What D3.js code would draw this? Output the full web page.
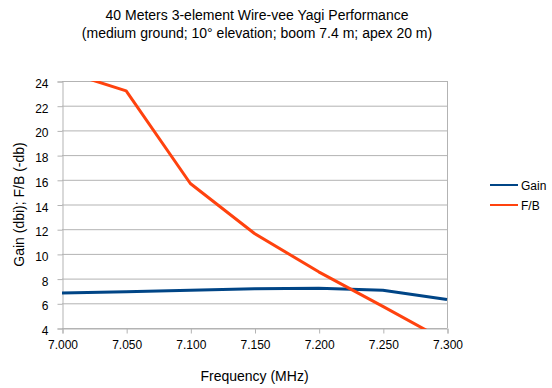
<!DOCTYPE html>
<html><head><meta charset="utf-8">
<script src="https://cdn.jsdelivr.net/npm/d3@7/dist/d3.min.js"></script>
<style>body{margin:0;background:#fff}svg{display:block;font-family:"Liberation Sans",Arial,sans-serif}</style>
</head><body>
<svg id="c" width="552" height="388"></svg>
<script>
const freqs = [7.000, 7.050, 7.100, 7.150, 7.200, 7.250, 7.300];
const gain = [6.83, 6.94, 7.05, 7.17, 7.22, 7.06, 6.30];
const fb = [24.85, 23.2, 15.7, 11.65, 8.55, 5.75, 2.9];
const xTicks = [7.000, 7.050, 7.100, 7.150, 7.200, 7.250, 7.300];
const yTicks = [4, 6, 8, 10, 12, 14, 16, 18, 20, 22, 24];
const seriesNames = ["Gain", "F/B"];
const colors = ["#004586", "#ff420e"];

const svg = d3.select("#c");
const L = 62, R = 447, T = 81, B = 328;
const x = d3.scaleLinear().domain([7.0, 7.3]).range([L, R]);
const y = d3.scaleLinear().domain([4, 24]).range([B, T]);

// title
svg.append("text").attr("x", 257).attr("y", 20).attr("text-anchor", "middle")
  .attr("font-size", 14).attr("fill", "#000").text("40 Meters 3-element Wire-vee Yagi Performance");
svg.append("text").attr("x", 257).attr("y", 38).attr("text-anchor", "middle")
  .attr("font-size", 14).attr("fill", "#000").text("(medium ground; 10° elevation; boom 7.4 m; apex 20 m)");

// gridlines
svg.append("g").selectAll("line").data(yTicks).join("line")
  .attr("x1", L).attr("x2", R).attr("y1", d => y(d) + 0.5).attr("y2", d => y(d) + 0.5)
  .attr("stroke", "#b3b3b3").attr("stroke-width", 1);

// right border
svg.append("line").attr("x1", R + 0.5).attr("x2", R + 0.5).attr("y1", T).attr("y2", B)
  .attr("stroke", "#b3b3b3");

// axes
const yAxis = svg.append("g").attr("transform", `translate(${L + 0.5},0.5)`)
  .call(d3.axisLeft(y).tickValues(yTicks).tickSize(5).tickPadding(9).tickFormat(d3.format("d")));
const xAxis = svg.append("g").attr("transform", `translate(0.5,${B + 0.5})`)
  .call(d3.axisBottom(x).tickValues(xTicks).tickSize(5).tickPadding(7).tickFormat(d3.format(".3f")));
[yAxis, xAxis].forEach(a => {
  a.select(".domain").attr("stroke", "#b3b3b3");
  a.selectAll(".tick line").attr("stroke", "#b3b3b3");
  a.selectAll(".tick text").attr("font-size", 12).attr("fill", "#000")
    .attr("font-family", '"Liberation Sans",Arial,sans-serif');
});
yAxis.selectAll(".tick text").attr("dy", "0.5em");

// clip
svg.append("clipPath").attr("id", "pc").append("rect")
  .attr("x", L).attr("y", T).attr("width", R - L + 1).attr("height", B - T + 1);

const line = d3.line().x(d => x(d[0])).y(d => y(d[1]));
const data = [gain, fb];
const g = svg.append("g").attr("clip-path", "url(#pc)");
data.forEach((s, i) => {
  g.append("path").datum(freqs.map((f, j) => [f, s[j]]))
    .attr("d", line).attr("fill", "none").attr("stroke", colors[i])
    .attr("stroke-width", 3).attr("stroke-linejoin", "round");
});

// axis titles
svg.append("text").attr("x", (L + R) / 2).attr("y", 381).attr("text-anchor", "middle")
  .attr("font-size", 14).attr("fill", "#000").text("Frequency (MHz)");
svg.append("text").attr("transform", `translate(24,${(T + B) / 2}) rotate(-90)`)
  .attr("text-anchor", "middle").attr("font-size", 14).attr("fill", "#000")
  .text("Gain (dbi); F/B (-db)");

// legend
const lg = svg.append("g");
seriesNames.forEach((n, i) => {
  const ly = 185 + i * 20;
  lg.append("line").attr("x1", 490).attr("x2", 518).attr("y1", ly).attr("y2", ly)
    .attr("stroke", colors[i]).attr("stroke-width", 2);
  lg.append("text").attr("x", 521).attr("y", ly + 4.5).attr("font-size", 12).attr("fill", "#000").text(n);
});
</script>
</body></html>
